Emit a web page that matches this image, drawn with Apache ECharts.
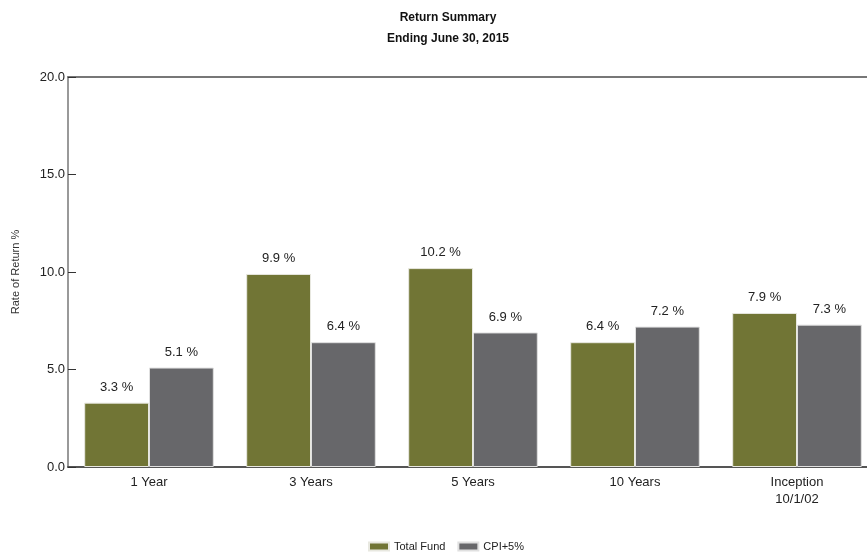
<!DOCTYPE html>
<html><head><meta charset="utf-8">
<script src="https://cdn.jsdelivr.net/npm/echarts@6/dist/echarts.min.js"></script>
<style>html,body{margin:0;padding:0;background:#fff;overflow:hidden}#c{width:896px;height:555px}</style>
</head><body><div id="c"></div>
<script>
const categories = ['1 Year', '3 Years', '5 Years', '10 Years', 'Inception\n10/1/02'];
const totalFund = [3.3, 9.9, 10.2, 6.4, 7.9];
const cpiPlus5 = [5.1, 6.4, 6.9, 7.2, 7.3];
const yTicks = { min: 0, max: 20, interval: 5 };
const FONT = '"Liberation Sans Narrow", "Liberation Sans", Arial, sans-serif';

const chart = echarts.init(document.getElementById('c'));
const lbl = {
  show: true, position: 'top', distance: 9,
  formatter: p => p.value.toFixed(1) + ' %',
  fontFamily: FONT, fontSize: 13, color: '#222'
};
chart.setOption({
  animation: false,
  title: {
    text: 'Return Summary', subtext: 'Ending June 30, 2015',
    left: 'center', top: 7, itemGap: 9,
    textStyle: { fontFamily: FONT, fontSize: 12, fontWeight: 'bold', color: '#111' },
    subtextStyle: { fontFamily: FONT, fontSize: 12, fontWeight: 'bold', color: '#111' }
  },
  legend: {
    bottom: -2, left: 363, itemWidth: 20, itemHeight: 8, itemGap: 12,
    icon: 'rect',
    textStyle: { fontFamily: FONT, fontSize: 11, color: '#222' },
    data: ['Total Fund', 'CPI+5%']
  },
  grid: { left: 68, right: 18, top: 77, bottom: 88, containLabel: false },
  xAxis: [{
    type: 'category', data: categories,
    axisLine: { lineStyle: { color: '#555', width: 2 } },
    axisTick: { show: false },
    axisLabel: { fontFamily: FONT, fontSize: 13, color: '#222', margin: 7, lineHeight: 17 }
  }, {
    type: 'category', data: categories, position: 'top',
    axisLine: { lineStyle: { color: '#777', width: 2 } },
    axisTick: { show: false }, axisLabel: { show: false }
  }],
  yAxis: {
    type: 'value', min: yTicks.min, max: yTicks.max, interval: yTicks.interval,
    name: 'Rate of Return %', nameLocation: 'middle', nameGap: 47,
    nameTextStyle: { fontFamily: FONT, fontSize: 11, color: '#333' },
    axisLine: { show: true, lineStyle: { color: '#777', width: 1.5 } },
    axisTick: { show: true, inside: true, length: 8, lineStyle: { color: '#333' } },
    axisLabel: { formatter: v => v.toFixed(1), fontFamily: FONT, fontSize: 13, color: '#222', margin: 3 },
    splitLine: { show: false }
  },
  series: [{
    name: 'Total Fund', type: 'bar', data: totalFund, barGap: '0%', barCategoryGap: '20%',
    itemStyle: { color: '#717535', borderColor: '#e8e8e0', borderWidth: 1 },
    label: lbl
  }, {
    name: 'CPI+5%', type: 'bar', data: cpiPlus5,
    itemStyle: { color: '#67676a', borderColor: '#e0e0e0', borderWidth: 1 },
    label: lbl
  }]
});
</script></body></html>
